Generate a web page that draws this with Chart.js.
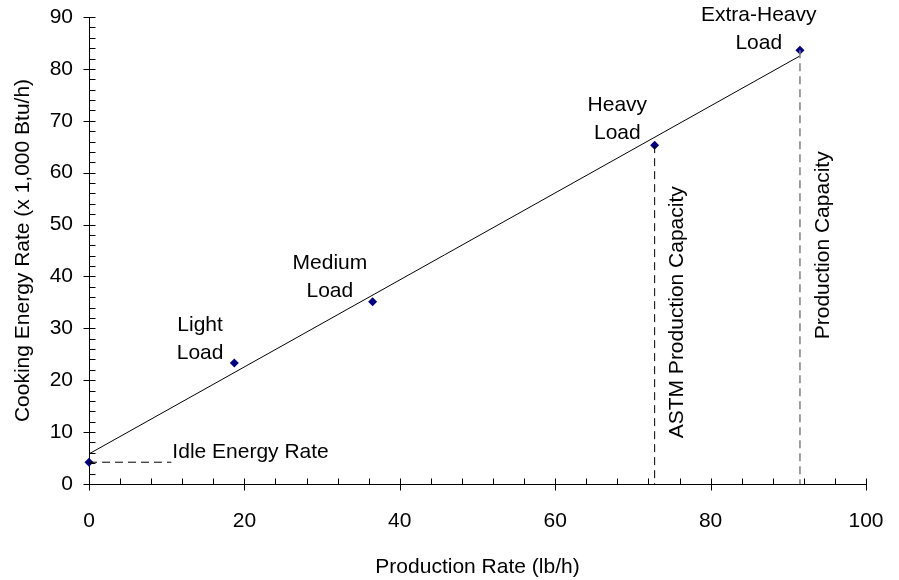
<!DOCTYPE html>
<html>
<head>
<meta charset="utf-8">
<script src="https://cdn.jsdelivr.net/npm/chart.js@4.4.0/dist/chart.umd.min.js"></script>
<style>
  html, body { margin: 0; padding: 0; background: #fff; }
  #wrap { width: 899px; height: 580px; }
</style>
</head>
<body>
<div id="wrap"><canvas id="chart" width="899" height="580"></canvas></div>
<script>
// test points (production rate lb/h, cooking energy rate kBtu/h)
const loadX = [0, 18.7, 36.5, 72.8, 91.5];
const loadY = [4.2, 23.3, 35.1, 65.3, 83.6];

// fitted line end points
const fitX = [0, 91.5];
const fitY = [5.8, 82.5];

// idle dashed marker end
const idleEndX = 10.6;

// axis ticks
const xTicks = [0, 20, 40, 60, 80, 100];
const yTicks = [0, 10, 20, 30, 40, 50, 60, 70, 80, 90];

// text notes in data coordinates
const noteText = ['Light', 'Load', 'Medium', 'Load', 'Heavy', 'Load', 'Extra-Heavy', 'Load'];
const noteX = [14.3, 14.3, 31.0, 31.0, 68.0, 68.0, 86.2, 86.2];
const noteY = [30.6, 25.2, 42.6, 37.2, 73.0, 67.6, 90.4, 85.0];

// rotated notes
const vertText = ['ASTM Production Capacity', 'Production Capacity'];
const vertX = [75.7, 94.5];
const vertY = [33.1, 46.0];

const FAMILY = '"Liberation Sans", Arial, sans-serif';
const SIZE = 21;

// draws ticks (major crossing axis, minor inside) and the notes
const extrasPlugin = {
    id: 'extras',
    afterDraw(chart) {
        const ctx = chart.ctx;
        const xs = chart.scales.x;
        const ys = chart.scales.y;
        const x0 = Math.round(xs.getPixelForValue(0)) + 0.5;
        const y0 = Math.round(ys.getPixelForValue(0)) + 0.5;

        ctx.save();
        ctx.strokeStyle = '#000';
        ctx.lineWidth = 1;
        ctx.beginPath();
        for (let v = 0; v <= 100; v += 4) {
            const px = Math.round(xs.getPixelForValue(v)) + 0.5;
            const major = v % 20 === 0;
            ctx.moveTo(px, y0 - 6);
            ctx.lineTo(px, major ? y0 + 6 : y0);
        }
        for (let v = 0; v <= 90; v += 2) {
            const py = Math.round(ys.getPixelForValue(v)) + 0.5;
            const major = v % 10 === 0;
            ctx.moveTo(major ? x0 - 6 : x0, py);
            ctx.lineTo(x0 + 6, py);
        }
        ctx.stroke();

        ctx.fillStyle = '#000';
        ctx.font = SIZE + 'px ' + FAMILY;
        ctx.textAlign = 'center';
        ctx.textBaseline = 'middle';
        noteText.forEach((t, i) => {
            ctx.fillText(t, xs.getPixelForValue(noteX[i]), ys.getPixelForValue(noteY[i]));
        });

        ctx.textAlign = 'left';
        ctx.fillText('Idle Energy Rate', xs.getPixelForValue(idleEndX) + 1, ys.getPixelForValue(6.2));

        ctx.textAlign = 'center';
        vertText.forEach((t, i) => {
            ctx.save();
            ctx.translate(xs.getPixelForValue(vertX[i]), ys.getPixelForValue(vertY[i]));
            ctx.rotate(-Math.PI / 2);
            ctx.fillText(t, 0, 0);
            ctx.restore();
        });
        ctx.restore();
    }
};

const ctx = document.getElementById('chart').getContext('2d');

new Chart(ctx, {
    type: 'scatter',
    data: {
        datasets: [
            {
                label: 'Idle',
                data: [{ x: loadX[0], y: loadY[0] }, { x: idleEndX, y: loadY[0] }],
                showLine: true,
                borderColor: '#000',
                borderWidth: 1,
                borderDash: [8, 5],
                pointRadius: 0
            },
            {
                label: 'ASTM',
                data: [{ x: loadX[3], y: loadY[3] }, { x: loadX[3], y: 0 }],
                showLine: true,
                borderColor: '#000',
                borderWidth: 1,
                borderDash: [8, 5],
                pointRadius: 0
            },
            {
                label: 'Capacity',
                data: [{ x: loadX[4], y: loadY[4] }, { x: loadX[4], y: 0 }],
                showLine: true,
                borderColor: '#808080',
                borderWidth: 1.5,
                borderDash: [8, 5],
                pointRadius: 0
            },
            {
                label: 'Fit',
                data: fitX.map((x, i) => ({ x, y: fitY[i] })),
                showLine: true,
                borderColor: '#000',
                borderWidth: 1,
                pointRadius: 0
            },
            {
                label: 'Loads',
                data: loadX.map((x, i) => ({ x, y: loadY[i] })),
                pointStyle: 'rectRot',
                pointRadius: 4.5,
                backgroundColor: '#000080',
                borderColor: '#000080',
                borderWidth: 0
            }
        ]
    },
    options: {
        responsive: false,
        animation: false,
        clip: false,
        layout: { padding: { top: 17, right: 33, left: 0, bottom: 0 } },
        plugins: {
            legend: { display: false },
            tooltip: { enabled: false }
        },
        scales: {
            x: {
                type: 'linear',
                min: 0,
                max: 100,
                afterFit: (s) => { s.height = 96; s.paddingLeft = 0; s.paddingRight = 0; },
                afterBuildTicks: (s) => { s.ticks = xTicks.map(v => ({ value: v })); },
                grid: { display: false },
                border: { display: true, color: '#000', width: 1 },
                ticks: {
                    color: '#000',
                    padding: 17,
                    maxRotation: 0,
                    font: { family: FAMILY, size: SIZE }
                },
                title: {
                    display: true,
                    text: 'Production Rate (lb/h)',
                    color: '#000',
                    padding: { top: 0, bottom: 0 },
                    font: { family: FAMILY, size: SIZE }
                }
            },
            y: {
                type: 'linear',
                min: 0,
                max: 90,
                afterFit: (s) => { s.width = 89; s.paddingTop = 0; s.paddingBottom = 0; },
                afterBuildTicks: (s) => { s.ticks = yTicks.map(v => ({ value: v })); },
                grid: { display: false },
                border: { display: true, color: '#000', width: 1 },
                ticks: {
                    color: '#000',
                    padding: 8,
                    font: { family: FAMILY, size: SIZE }
                },
                title: {
                    display: true,
                    text: 'Cooking Energy Rate (x 1,000 Btu/h)',
                    color: '#000',
                    padding: { top: 11, bottom: 0 },
                    font: { family: FAMILY, size: SIZE }
                }
            }
        }
    },
    plugins: [extrasPlugin]
});
</script>
</body>
</html>
